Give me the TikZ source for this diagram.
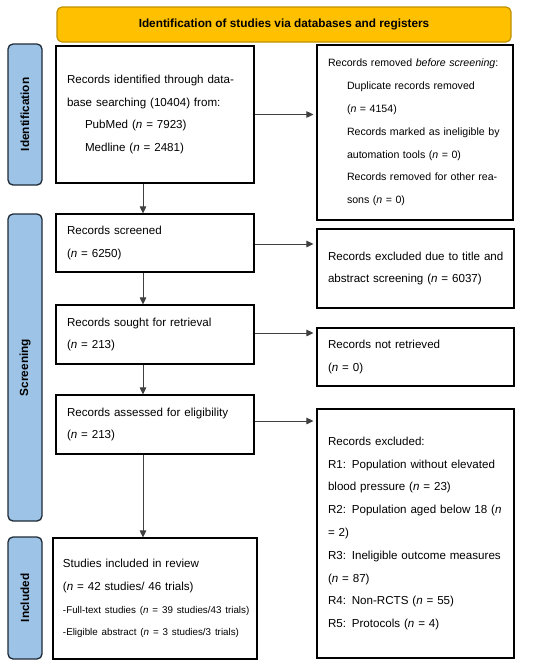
\documentclass[tikz,border=0pt]{standalone}
\usepackage{fontspec}
\setmainfont{Liberation Sans}
\usetikzlibrary{arrows.meta}
\definecolor{bannerfill}{HTML}{FFC000}
\definecolor{bannerline}{HTML}{C09000}
\definecolor{sidefill}{HTML}{9DC3E6}
\definecolor{sideline}{HTML}{1F2A36}
\definecolor{arrowcol}{HTML}{404040}
\newcommand{\jl}[2]{\makebox[#1][s]{#2}}
\newcommand{\nn}{\textit{n}}
\begin{document}
\begin{tikzpicture}[x=1pt,y=-1pt,
  flowbox/.style={draw=black, line width=1.1pt, fill=white, inner xsep=11pt, inner ysep=0pt,
    align=left, anchor=center, font=\fontsize{11.6}{22.8}\selectfont},
  sidebox/.style={draw=sideline, line width=1.3pt, fill=sidefill, rounded corners=5pt,
    rotate=90, anchor=center, inner sep=0pt, font=\bfseries\fontsize{11.8}{14}\selectfont},
  banner/.style={draw=bannerline, line width=1.2pt, fill=bannerfill, rounded corners=5pt,
    anchor=center, inner sep=0pt, font=\bfseries\fontsize{11.8}{14}\selectfont},
  flowarrow/.style={draw=arrowcol, line width=0.9pt, -{Triangle[length=7pt,width=6.5pt]}}
]
\useasboundingbox (0,0) rectangle (550,665);
\fill[white] (0,0) rectangle (550,665);

% banner
\node[banner, minimum width=454pt, minimum height=35pt] (banner) at (284,24.5)
  {Identification of studies via databases and registers};

% side labels
\node[sidebox, minimum width=141pt, minimum height=34pt] (sideid) at (25,114.5) {Identification};
\node[sidebox, minimum width=307pt, minimum height=34pt] (sidescr) at (25,367.5) {Screening};
\node[sidebox, minimum width=122pt, minimum height=34pt] (sideinc) at (25,598) {Included};

% left column
\node[flowbox, text width=176pt, minimum height=137pt] (ident) at (155,114.5)
  {\jl{176pt}{Records identified through data-}\\
   base searching (10404) from:\\
   \hspace*{18pt}PubMed (\nn{} = 7923)\\
   \hspace*{18pt}Medline (\nn{} = 2481)};

\node[flowbox, text width=176pt, minimum height=58pt] (screened) at (155,243)
  {Records screened\\(\nn{} = 6250)};

\node[flowbox, text width=176pt, minimum height=59pt] (sought) at (155,334.5)
  {Records sought for retrieval\\(\nn{} = 213)};

\node[flowbox, text width=176pt, minimum height=59pt] (assessed) at (155,424.5)
  {\jl{176pt}{Records assessed for eligibility}\\(\nn{} = 213)};

\node[flowbox, inner xsep=10pt, text width=184pt, minimum height=121pt] (included) at (155,598.5)
  {Studies included in review\\
   (\nn{} = 42 studies/ 46 trials)\\
   {\fontsize{9.8}{22.8}\selectfont\mbox{-Full-text studies (\nn{} = 39 studies/43 trials)}}\\
   {\fontsize{9.8}{22.8}\selectfont\mbox{-Eligible abstract (\nn{} = 3 studies/3 trials)}}};

% right column
\node[flowbox, text width=174pt, minimum height=175pt, font=\fontsize{10.6}{22.8}\selectfont] (removed) at (415,132.5)
  {Records removed \textit{before screening}:\\
   \hspace*{19pt}Duplicate records removed\\
   \hspace*{19pt}(\nn{} = 4154)\\
   \hspace*{19pt}\jl{155pt}{Records marked as ineligible by}\\
   \hspace*{19pt}automation tools (\nn{} = 0)\\
   \hspace*{19pt}\jl{155pt}{Records removed for other rea-}\\
   \hspace*{19pt}sons (\nn{} = 0)};

\node[flowbox, text width=175pt, minimum height=79pt] (excluded) at (415.5,268.5)
  {\mbox{Records excluded due to title and}\\abstract screening (\nn{} = 6037)};

\node[flowbox, text width=175pt, minimum height=58pt] (notret) at (415.5,357)
  {Records not retrieved\\(\nn{} = 0)};

\node[flowbox, text width=175pt, minimum height=249pt] (reasons) at (415.5,533.5)
  {Records excluded:\\
   \jl{175pt}{R1: Population without elevated}\\
   blood pressure (\nn{} = 23)\\
   \jl{175pt}{R2: Population aged below 18 (\nn}\\
   = 2)\\
   \jl{175pt}{R3: Ineligible outcome measures}\\
   (\nn{} = 87)\\
   R4: Non-RCTS (\nn{} = 55)\\
   R5: Protocols (\nn{} = 4)};

% vertical arrows
\draw[flowarrow] ([xshift=-12pt]ident.south) -- ([xshift=-12pt]screened.north);
\draw[flowarrow] ([xshift=-12pt]screened.south) -- ([xshift=-12pt]sought.north);
\draw[flowarrow] ([xshift=-12pt]sought.south) -- ([xshift=-12pt]assessed.north);
\draw[flowarrow] ([xshift=-12pt]assessed.south) -- ([xshift=-12pt]included.north);

% horizontal arrows
\draw[flowarrow, shorten >=3pt] (ident.east) -- (ident.east -| removed.west);
\draw[flowarrow, shorten >=3pt] ([yshift=-1pt]screened.east) -- ([yshift=-1pt]screened.east -| excluded.west);
\draw[flowarrow, shorten >=3pt] ([yshift=1.5pt]sought.east) -- ([yshift=1.5pt]sought.east -| notret.west);
\draw[flowarrow, shorten >=3pt] ([yshift=3.5pt]assessed.east) -- ([yshift=3.5pt]assessed.east -| reasons.west);
\end{tikzpicture}
\end{document}
